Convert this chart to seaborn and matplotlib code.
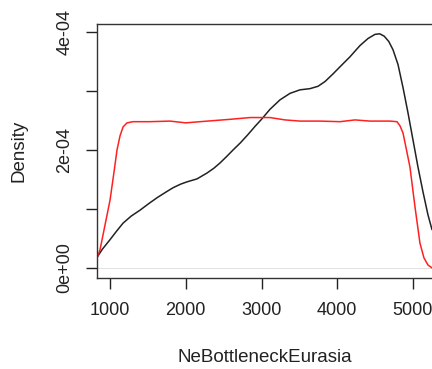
import matplotlib
matplotlib.use("Agg")
import matplotlib.pyplot as plt
import seaborn as sns
import numpy as np
import pandas as pd

# Values (density in units of 1e-4)
black_x = [828, 900, 1000, 1090, 1172, 1280, 1396, 1510, 1620, 1730, 1832, 1930, 2016, 2148,
           2281, 2370, 2452, 2540, 2624, 2720, 2820, 2914, 3000, 3112, 3244, 3376, 3508, 3640,
           3746, 3838, 3944, 4036, 4168, 4300, 4406, 4498, 4560, 4620, 4680, 4736, 4802, 4868,
           4934, 5000, 5066, 5132, 5198, 5251]
black_y = [0.18, 0.32, 0.48, 0.63, 0.76, 0.88, 0.98, 1.09, 1.19, 1.28, 1.36, 1.42, 1.46, 1.51,
           1.61, 1.69, 1.78, 1.89, 2.00, 2.12, 2.26, 2.40, 2.52, 2.69, 2.85, 2.96, 3.02, 3.04,
           3.08, 3.16, 3.29, 3.41, 3.58, 3.77, 3.89, 3.96, 3.97, 3.93, 3.84, 3.70, 3.45, 3.06,
           2.63, 2.17, 1.71, 1.29, 0.90, 0.65]
red_x = [828, 868, 934, 1000, 1053, 1092, 1132, 1172, 1224, 1304, 1528, 1792, 2000, 2188,
         2386, 2585, 2850, 3112, 3310, 3508, 3772, 4036, 4234, 4432, 4696, 4789, 4828, 4868,
         4908, 4960, 5026, 5092, 5145, 5198, 5251]
red_y = [0.17, 0.31, 0.73, 1.15, 1.63, 2.00, 2.24, 2.39, 2.46, 2.48, 2.48, 2.49, 2.46, 2.48,
         2.50, 2.52, 2.55, 2.55, 2.51, 2.49, 2.49, 2.48, 2.51, 2.49, 2.49, 2.48, 2.41, 2.29,
         2.04, 1.71, 1.04, 0.42, 0.17, 0.05, 0.0]
x_ticks = [1000, 2000, 3000, 4000, 5000]
y_ticks = [0, 1e-4, 2e-4, 3e-4, 4e-4]
y_tick_labels = ["0e+00", "", "2e-04", "", "4e-04"]

sns.set_style("white")
plt.rcParams['font.family'] = ['Liberation Sans', 'DejaVu Sans']

df_b = pd.DataFrame({"x": black_x, "y": np.array(black_y) * 1e-4})
df_r = pd.DataFrame({"x": red_x, "y": np.array(red_y) * 1e-4})

fig = plt.figure(figsize=(4.32, 3.69), dpi=100)
ax = fig.add_axes([97/432, 1 - 278/369, 1 - 97/432, (278 - 24)/369])

ax.axhline(0, color="#cccccc", lw=0.4, zorder=1)
sns.lineplot(data=df_b, x="x", y="y", ax=ax, color="#222222", lw=1.1, sort=False, estimator=None)
sns.lineplot(data=df_r, x="x", y="y", ax=ax, color="#ff2020", lw=1.1, sort=False, estimator=None)

ax.set_xlim(828, 5251)
ax.set_ylim(-0.17e-4, 4.136e-4)
ax.set_xticks(x_ticks)
ax.set_xticklabels([str(t) for t in x_ticks], fontsize=13)
ax.set_yticks(y_ticks)
ax.set_yticklabels(y_tick_labels, fontsize=13, rotation=90, va="center")
ax.tick_params(axis="both", direction="out", length=8, width=1, color="#222222",
               bottom=True, left=True, pad=9, labelcolor="#222222")
for side in ["left", "bottom", "top"]:
    ax.spines[side].set_color("#333333")
    ax.spines[side].set_linewidth(1.0)
ax.spines["right"].set_visible(False)

ax.set_xlabel("NeBottleneckEurasia", fontsize=13.5, labelpad=22, color="#222222")
ax.set_ylabel("Density", fontsize=13.5, labelpad=21, color="#222222")

fig.savefig("out.png", dpi=100)
